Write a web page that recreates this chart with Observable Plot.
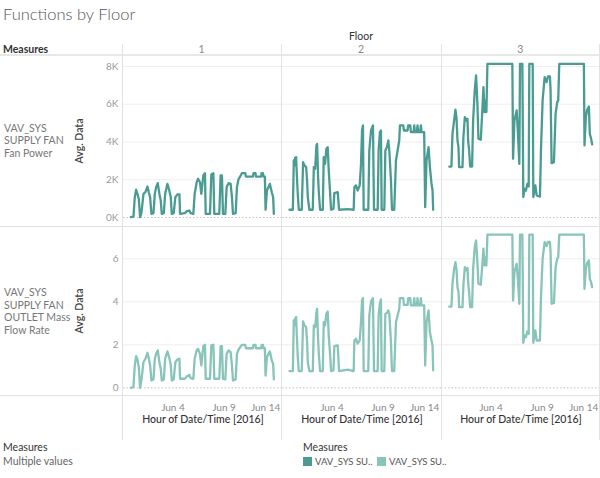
<!DOCTYPE html>
<html><head><meta charset="utf-8">
<script src="https://cdn.jsdelivr.net/npm/d3@7"></script>
<script src="https://cdn.jsdelivr.net/npm/@observablehq/plot@0.6"></script>
<style>
body{margin:0;background:#fff;font-family:Lato,"Open Sans",sans-serif;}
#root{position:relative;width:600px;height:478px;overflow:hidden;background:#fff;}
.t{position:absolute;white-space:nowrap;line-height:1;}
.hl{position:absolute;height:1px;background:#e2e2e2;}
.vl{position:absolute;width:1px;background:#e2e2e2;}
.sw{position:absolute;width:9px;height:9px;}
.abs{position:absolute;}
</style></head><body><div id="root"></div>
<script>
// ---- data (day offsets from Jun 1 2016 00:00) ----
const floors = [1, 2, 3];
const measureNames = ["VAV_SYS SUPPLY FAN Fan Power", "VAV_SYS SUPPLY FAN OUTLET Mass Flow Rate"];
const floor1Days = [0.03,0.29,0.42,0.55,0.68,0.81,0.94,1.07,1.27,1.46,1.66,1.79,1.92,2.05,2.25,2.38,2.51,2.67,2.83,2.96,3.06,3.26,3.39,3.61,3.78,3.94,4.04,4.23,4.39,4.59,4.79,4.85,5.31,5.53,5.76,5.89,6.15,6.28,6.48,6.61,6.80,6.93,7.13,7.29,7.36,7.78,7.91,8.11,8.20,8.69,8.82,8.95,9.05,9.28,9.41,9.60,9.80,9.93,10.03,10.29,10.42,10.58,10.74,10.90,11.23,11.30,11.98,12.04,12.24,12.27,12.79,12.83,12.96,13.02,13.15,13.22,13.35,13.64,13.83,13.96,14.03];
const floor1Power = [20,50,1080,1470,1250,990,20,230,1250,1340,1640,1340,1080,190,230,1250,1610,1820,1250,900,190,230,1250,1780,1470,1080,190,230,1080,1220,1220,190,230,340,370,230,190,1250,1870,2050,1870,1250,2230,2350,190,190,2280,2350,190,190,2230,2230,190,190,1610,1820,1780,1080,190,230,1610,2050,2170,2350,2350,2170,2170,2350,2350,2170,2170,2350,2350,2170,2170,410,1430,1780,1340,1080,190];
const floor1Flow = [0.00,0.03,1.04,1.47,1.32,0.96,0.00,0.34,1.19,1.35,1.63,1.38,1.04,0.34,0.39,1.35,1.58,1.74,1.19,0.88,0.34,0.39,1.35,1.69,1.43,1.07,0.34,0.39,1.19,1.32,1.35,0.42,0.42,0.54,0.60,0.45,0.42,1.35,1.74,1.81,1.58,1.04,1.94,2.00,0.42,0.42,1.97,2.00,0.42,0.42,1.94,1.94,0.42,0.39,1.58,1.74,1.66,1.04,0.34,0.39,1.58,1.78,1.89,2.00,2.00,1.84,1.84,2.00,2.00,1.84,1.84,2.00,2.00,1.84,1.84,0.57,1.43,1.69,1.27,1.12,0.39];

const floor2Days = [0.00,0.33,0.42,0.49,0.55,0.65,0.72,0.81,0.91,1.20,1.33,1.46,1.63,1.73,1.79,1.95,2.28,2.38,2.51,2.64,2.70,2.80,2.86,2.99,3.26,3.35,3.48,3.61,3.74,3.84,3.97,4.07,4.30,4.39,4.72,4.85,5.70,6.28,6.35,6.51,6.67,6.87,7.00,7.10,7.19,7.26,7.71,7.81,7.98,8.17,8.27,8.63,8.72,8.85,8.95,9.02,9.28,9.38,9.54,9.67,9.77,9.93,10.03,10.25,10.42,10.58,10.74,10.81,11.13,11.20,11.56,11.62,11.82,11.88,12.14,12.21,12.27,12.47,12.53,12.60,12.79,12.86,12.92,13.18,13.28,13.41,13.61,13.74,13.90,14.00,14.06];
const floor2Power = [410,410,3020,2760,3160,3200,2230,1250,410,410,2930,2760,2670,1870,1080,410,410,2670,2580,3820,3900,2140,1430,410,410,3200,2840,3640,3730,2490,1340,410,460,1290,1340,410,440,410,1610,1700,1430,1700,2840,4610,4880,410,410,3550,4610,4880,410,410,3550,4520,4610,410,410,3550,3730,4080,3550,1960,410,410,3020,3550,4080,4880,4880,4610,4610,4880,4880,4520,4520,4880,4520,4520,4880,4520,4520,4880,4520,4520,550,3020,3730,2670,1780,1430,410];
const floor2Flow = [0.78,0.78,3.13,2.90,3.21,3.29,2.43,1.43,0.78,0.78,3.09,2.90,2.82,2.05,1.19,0.78,0.78,2.90,2.82,3.52,3.67,2.28,1.66,0.78,0.78,3.05,2.90,3.44,3.55,2.43,1.58,0.78,0.81,1.94,1.97,0.78,0.85,0.78,2.20,2.28,2.05,2.20,3.05,4.06,4.17,0.78,0.78,3.36,4.02,4.17,0.78,0.78,3.36,3.95,4.11,0.78,0.78,3.44,3.49,3.60,3.44,2.12,0.78,0.78,3.05,3.36,3.67,4.17,4.17,3.86,3.86,4.17,4.17,3.83,3.83,4.17,3.83,3.83,4.17,3.83,3.83,4.17,3.83,3.83,1.04,3.05,3.60,2.59,2.20,1.97,0.81];

const floor3Days = [0.07,0.29,0.39,0.55,0.68,0.78,0.88,0.98,1.04,1.37,1.46,1.60,1.73,1.86,1.92,2.02,2.12,2.31,2.41,2.57,2.70,2.83,2.93,3.16,3.32,3.42,3.52,3.65,3.71,3.81,6.25,6.32,6.45,6.67,6.80,6.93,7.00,7.23,7.32,7.45,7.58,7.71,7.85,7.91,8.24,8.30,8.50,8.63,8.95,9.05,9.21,9.41,9.60,9.73,9.93,9.99,10.09,10.32,10.48,10.64,10.74,10.84,13.25,13.31,13.44,13.57,13.74,13.83,13.96,14.06];
const floor3Power = [2700,2700,4430,5140,5710,5320,4080,3730,2670,2670,4260,5320,5140,5230,4080,3550,2700,2700,5140,6730,7530,6020,4170,4120,5760,6910,5580,6200,5580,8140,8140,3110,5140,5670,4430,2840,8140,8140,1080,1520,1430,1780,1640,8140,8140,1080,1700,1170,1110,3550,6200,7440,7170,7470,7470,6730,2880,2930,5490,6110,6200,8140,8140,3820,5320,5710,5880,4430,4170,3870];
const floor3Flow = [3.78,3.78,4.84,5.53,5.84,5.53,4.68,4.45,3.75,3.75,4.76,5.61,5.46,5.57,4.91,4.45,3.75,3.75,5.53,6.54,6.85,5.84,4.84,4.79,5.77,6.47,5.69,6.08,5.69,7.12,7.12,4.06,5.38,5.77,4.99,3.91,7.12,7.12,2.09,2.43,2.36,2.62,2.51,7.12,7.12,2.09,2.67,2.20,2.20,4.22,6.00,6.78,6.59,6.78,6.78,6.31,3.91,3.95,5.61,6.00,6.08,7.12,7.12,4.60,5.53,5.81,5.92,5.07,4.91,4.68];

const powerTicks = [0, 2000, 4000, 6000, 8000];
const flowTicks = [0, 2, 4, 6];
const xTickDays = [3, 8];   // Jun 4, Jun 9
const xLastTickDay = [13];  // Jun 14
const colors = ["#4a9c92", "#88c4ba"];

// ---- build tables ----
const base = Date.UTC(2016, 5, 1);
const toDate = d => new Date(base + d * 864e5);
const dayLists = [floor1Days, floor2Days, floor3Days];
const powerLists = [floor1Power, floor2Power, floor3Power];
const flowLists = [floor1Flow, floor2Flow, floor3Flow];
const build = lists => floors.flatMap((f, i) => dayLists[i].map((d, j) => ({floor: f, date: toDate(d), value: lists[i][j]})));
const powerRows = build(powerLists);
const flowRows = build(flowLists);

const FONT = "Lato, 'Open Sans', sans-serif";
const xDomain = [toDate(-0.684), toDate(14.876)];

function rowPlot({rows, yDomain, ticks, fmt, color, height, marginBottom, xAxis}) {
  const marks = [
    Plot.gridY(ticks.filter(t => t !== 0), {stroke: "#efefef", strokeOpacity: 1}),
    Plot.ruleY([0], {stroke: "#c4c4c4", strokeDasharray: "1.5,2"}),
    Plot.line(rows, {x: "date", y: "value", stroke: color, strokeWidth: 2.3, strokeLinejoin: "round"}),
    Plot.axisY(ticks, {tickSize: 0, tickPadding: 5, tickFormat: fmt, fontSize: 10, color: "#9a9a9a", label: null})
  ];
  if (xAxis) {
    const f = d3.utcFormat("%b %-d");
    marks.push(
      Plot.axisX(xTickDays.map(toDate), {tickSize: 0, tickPadding: 8, tickFormat: f, textAnchor: "start", fontSize: 10, color: "#8a8a8a", label: null}),
      Plot.axisX(xLastTickDay.map(toDate), {tickSize: 0, tickPadding: 8, tickFormat: f, textAnchor: "end", dx: 17, fontSize: 10, color: "#8a8a8a", label: null}),
      Plot.text(["Hour of Date/Time [2016]"], {frameAnchor: "bottom", dy: 27, fontSize: 10.5, fill: "#333", fontWeight: 500})
    );
  }
  return Plot.plot({
    width: 600, height, marginLeft: 122, marginRight: 0, marginTop: 0, marginBottom,
    style: {background: "transparent", fontFamily: FONT, overflow: "visible"},
    facet: {data: rows, x: "floor"},
    fx: {domain: floors, padding: 0, axis: null},
    x: {type: "utc", domain: xDomain, axis: xAxis ? undefined : null},
    y: {domain: yDomain},
    marks
  });
}

const root = document.getElementById("root");
function add(html) { root.insertAdjacentHTML("beforeend", html); }

const p1 = rowPlot({rows: powerRows, yDomain: [-477, 8583], ticks: powerTicks, fmt: d => d / 1000 + "K", color: colors[0], height: 171, marginBottom: 0, xAxis: false});
p1.style.position = "absolute"; p1.style.left = "0px"; p1.style.top = "55px";
root.appendChild(p1);
const p2 = rowPlot({rows: flowRows, yDomain: [-0.358, 7.502], ticks: flowTicks, fmt: d => String(d), color: colors[1], height: 214, marginBottom: 45, xAxis: true});
p2.style.position = "absolute"; p2.style.left = "0px"; p2.style.top = "226px";
root.appendChild(p2);

// ---- headers, labels, separators ----
add(`<div class="t" style="left:3px;top:6px;font-size:16.5px;color:#555;font-weight:300">Functions by Floor</div>`);
add(`<div class="t" style="left:361px;top:31px;font-size:10.5px;color:#333;transform:translateX(-50%)">Floor</div>`);
add(`<div class="t" style="left:3px;top:44px;font-size:10.5px;color:#333;font-weight:700">Measures</div>`);
floors.forEach((f, i) => add(`<div class="t" style="left:${122 + 159.33 * (i + 0.5)}px;top:44px;font-size:10.5px;color:#888;transform:translateX(-50%)">${f}</div>`));

add(`<div class="abs" style="left:4px;top:122px;font-size:10.5px;line-height:12.3px;color:#777">VAV_SYS<br>SUPPLY FAN<br>Fan Power</div>`);
add(`<div class="abs" style="left:4px;top:286px;font-size:10.5px;line-height:12.5px;color:#777">VAV_SYS<br>SUPPLY FAN<br>OUTLET Mass<br>Flow Rate</div>`);
[140.5, 310.5].forEach(y => add(`<div class="t" style="left:79px;top:${y}px;font-size:10.5px;color:#444;font-weight:600;transform:translate(-50%,-50%) rotate(-90deg)">Avg. Data</div>`));

add(`<div class="hl" style="left:0;top:54px;width:600px;height:2px;background:#e8e8e8"></div>`);
add(`<div class="hl" style="left:0;top:226px;width:600px"></div>`);
add(`<div class="hl" style="left:0;top:395px;width:600px"></div>`);
[122, 281, 441, 599].forEach(x => add(`<div class="vl" style="left:${x}px;top:44px;height:396px"></div>`));

// ---- legends ----
add(`<div class="t" style="left:3px;top:442px;font-size:10.5px;color:#333">Measures</div>`);
add(`<div class="t" style="left:3px;top:456px;font-size:10.5px;color:#666">Multiple values</div>`);
add(`<div class="t" style="left:303px;top:442px;font-size:10.5px;color:#333">Measures</div>`);
add(`<div class="sw" style="left:303px;top:457px;background:${colors[0]}"></div>`);
add(`<div class="t" style="left:315px;top:457px;font-size:9.5px;color:#555">VAV_SYS SU..</div>`);
add(`<div class="sw" style="left:377px;top:457px;background:${colors[1]}"></div>`);
add(`<div class="t" style="left:389px;top:457px;font-size:9.5px;color:#555">VAV_SYS SU..</div>`);
</script></body></html>
